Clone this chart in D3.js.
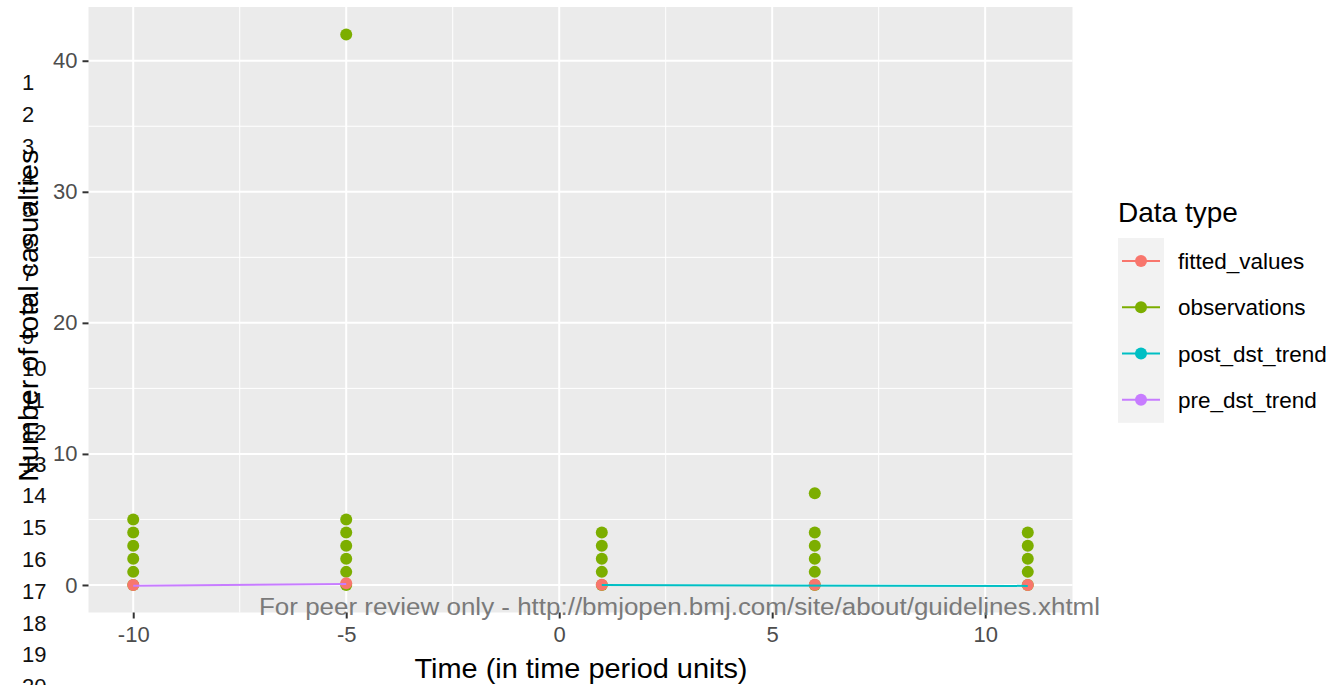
<!DOCTYPE html>
<html>
<head>
<meta charset="utf-8">
<script src="https://cdn.jsdelivr.net/npm/d3@7"></script>
<style>
  html, body { margin: 0; padding: 0; background: #ffffff; }
  svg { display: block; }
  text { font-family: "Liberation Sans", Arial, Helvetica, sans-serif; }
</style>
</head>
<body>
<script>
// ---------------- data ----------------
const seriesNames = ["fitted_values", "observations", "post_dst_trend", "pre_dst_trend"];
const seriesColors = ["#F8766D", "#7CAE00", "#00BFC4", "#C77CFF"];

const obsTime  = [-10, -10, -10, -10, -10, -10,  -5, -5, -5, -5, -5, -5, -5,  1, 1, 1, 1, 1,  6, 6, 6, 6, 6, 6,  11, 11, 11, 11, 11];
const obsValue = [  0,   1,   2,   3,   4,   5,   0,  1,  2,  3,  4,  5, 42,  0, 1, 2, 3, 4,  0, 1, 2, 3, 4, 7,   0,  1,  2,  3,  4];

const fittedTime  = [-10, -5, 1, 6, 11];
const fittedValue = [0.0, 0.13, 0.02, 0.01, 0.0];

const preTime  = [-10, -5];
const preValue = [-0.05, 0.08];

const postTime  = [1, 11];
const postValue = [-0.01, -0.07];

const xTicks = [-10, -5, 0, 5, 10];
const xMinor = [-7.5, -2.5, 2.5, 7.5];
const yTicks = [0, 10, 20, 30, 40];
const yMinor = [5, 15, 25, 35];

const lineNumbers = ["1","2","3","4","5","6","7","8","9","10","11","12","13","14","15","16","17","18","19","20"];

const xTitle = "Time (in time period units)";
const yTitle = "Number of total casualties";
const legendTitle = "Data type";
const watermark = "For peer review only - http://bmjopen.bmj.com/site/about/guidelines.xhtml";

// ---------------- layout ----------------
const W = 1333, H = 685;
const panel = { left: 88.5, right: 1072.5, top: 7, bottom: 612.5 };

const svg = d3.select("body").append("svg")
  .attr("width", W).attr("height", H);

// expanded domains like ggplot (5% each side)
const xr = d3.extent(obsTime.concat(fittedTime));
const yr = d3.extent(obsValue.concat(fittedValue));
const xpad = (xr[1] - xr[0]) * 0.05, ypad = (yr[1] - yr[0]) * 0.05;

const x = d3.scaleLinear().domain([xr[0] - xpad, xr[1] + xpad]).range([panel.left, panel.right]);
const y = d3.scaleLinear().domain([yr[0] - ypad, yr[1] + ypad]).range([panel.bottom, panel.top]);
const color = d3.scaleOrdinal().domain(seriesNames).range(seriesColors);

// line numbers on the left (page margin)
svg.append("g").selectAll("text").data(lineNumbers).join("text")
  .attr("x", 22)
  .attr("y", (d, i) => 82 + i * 31.8)
  .attr("dy", "0.36em")
  .attr("font-size", 22)
  .attr("fill", "#111")
  .text(d => d);

// panel background
svg.append("rect")
  .attr("x", panel.left).attr("y", panel.top)
  .attr("width", panel.right - panel.left).attr("height", panel.bottom - panel.top)
  .attr("fill", "#EBEBEB");

const grid = svg.append("g");
grid.selectAll(".xm").data(xMinor).join("line")
  .attr("x1", d => x(d)).attr("x2", d => x(d))
  .attr("y1", panel.top).attr("y2", panel.bottom)
  .attr("stroke", "#fff").attr("stroke-width", 1);
grid.selectAll(".ym").data(yMinor).join("line")
  .attr("y1", d => y(d)).attr("y2", d => y(d))
  .attr("x1", panel.left).attr("x2", panel.right)
  .attr("stroke", "#fff").attr("stroke-width", 1);
grid.selectAll(".xM").data(xTicks).join("line")
  .attr("x1", d => x(d)).attr("x2", d => x(d))
  .attr("y1", panel.top).attr("y2", panel.bottom)
  .attr("stroke", "#fff").attr("stroke-width", 2);
grid.selectAll(".yM").data(yTicks).join("line")
  .attr("y1", d => y(d)).attr("y2", d => y(d))
  .attr("x1", panel.left).attr("x2", panel.right)
  .attr("stroke", "#fff").attr("stroke-width", 2);

// axes
const fmt = d => String(d);
const xAxis = svg.append("g")
  .attr("transform", `translate(0,${panel.bottom})`)
  .call(d3.axisBottom(x).tickValues(xTicks).tickSize(6).tickPadding(8).tickFormat(fmt));
const yAxis = svg.append("g")
  .attr("transform", `translate(${panel.left},0)`)
  .call(d3.axisLeft(y).tickValues(yTicks).tickSize(6).tickPadding(6).tickFormat(fmt));
[xAxis, yAxis].forEach(a => {
  a.select(".domain").remove();
  a.selectAll(".tick line").attr("stroke", "#333").attr("stroke-width", 2);
  a.selectAll(".tick text").attr("fill", "#4D4D4D").attr("font-size", 22)
    .attr("font-family", "Liberation Sans, Arial, sans-serif");
});
xAxis.selectAll(".tick text").attr("dy", "0.71em").attr("y", 14);
yAxis.selectAll(".tick text").attr("x", -11);

// points: observations then fitted values
const pts = svg.append("g");
pts.selectAll(".obs").data(obsTime.map((t, i) => ({ t, v: obsValue[i] }))).join("circle")
  .attr("cx", d => x(d.t)).attr("cy", d => y(d.v)).attr("r", 6)
  .attr("fill", color("observations"));
pts.selectAll(".fit").data(fittedTime.map((t, i) => ({ t, v: fittedValue[i] }))).join("circle")
  .attr("cx", d => x(d.t)).attr("cy", d => y(d.v)).attr("r", 6)
  .attr("fill", color("fitted_values"));

// trend lines
const lineGen = d3.line().x(d => x(d.t)).y(d => y(d.v));
svg.append("path")
  .datum(preTime.map((t, i) => ({ t, v: preValue[i] })))
  .attr("d", lineGen).attr("fill", "none")
  .attr("stroke", color("pre_dst_trend")).attr("stroke-width", 2);
svg.append("path")
  .datum(postTime.map((t, i) => ({ t, v: postValue[i] })))
  .attr("d", lineGen).attr("fill", "none")
  .attr("stroke", color("post_dst_trend")).attr("stroke-width", 2);

// axis titles
svg.append("text")
  .attr("x", 581).attr("y", 668)
  .attr("dy", "0.36em").attr("text-anchor", "middle")
  .attr("font-size", 28).attr("fill", "#000")
  .attr("textLength", 333).attr("lengthAdjust", "spacingAndGlyphs")
  .text(xTitle);
svg.append("text")
  .attr("transform", `translate(28,${(panel.top + panel.bottom) / 2 + 6}) rotate(-90)`)
  .attr("dy", "0.36em").attr("text-anchor", "middle")
  .attr("font-size", 28).attr("fill", "#000")
  .attr("textLength", 332).attr("lengthAdjust", "spacingAndGlyphs")
  .text(yTitle);

// legend
const lg = svg.append("g");
lg.append("text").attr("x", 1118).attr("y", 212).attr("dy", "0.36em")
  .attr("font-size", 28).attr("fill", "#000").text(legendTitle);
const keyTop = 238, keyH = 46.2;
lg.append("rect").attr("x", 1118).attr("y", keyTop)
  .attr("width", 46).attr("height", keyH * seriesNames.length)
  .attr("fill", "#F2F2F2");
const items = lg.selectAll(".item").data(seriesNames).join("g")
  .attr("transform", (d, i) => `translate(1118,${keyTop + keyH * i + keyH / 2})`);
items.append("line").attr("x1", 4).attr("x2", 42).attr("y1", 0).attr("y2", 0)
  .attr("stroke", d => color(d)).attr("stroke-width", 2);
items.append("circle").attr("cx", 23).attr("cy", 0).attr("r", 6).attr("fill", d => color(d));
items.append("text").attr("x", 60).attr("y", 0).attr("dy", "0.36em")
  .attr("font-size", 22.5).attr("fill", "#000").text(d => d);

// watermark
svg.append("text")
  .attr("x", 259).attr("y", 607).attr("dy", "0.36em")
  .attr("font-family", "'Open Sans', sans-serif")
  .attr("font-size", 23).attr("fill", "#7a7a7a")
  .attr("textLength", 841).attr("lengthAdjust", "spacingAndGlyphs")
  .text(watermark);
</script>
</body>
</html>
